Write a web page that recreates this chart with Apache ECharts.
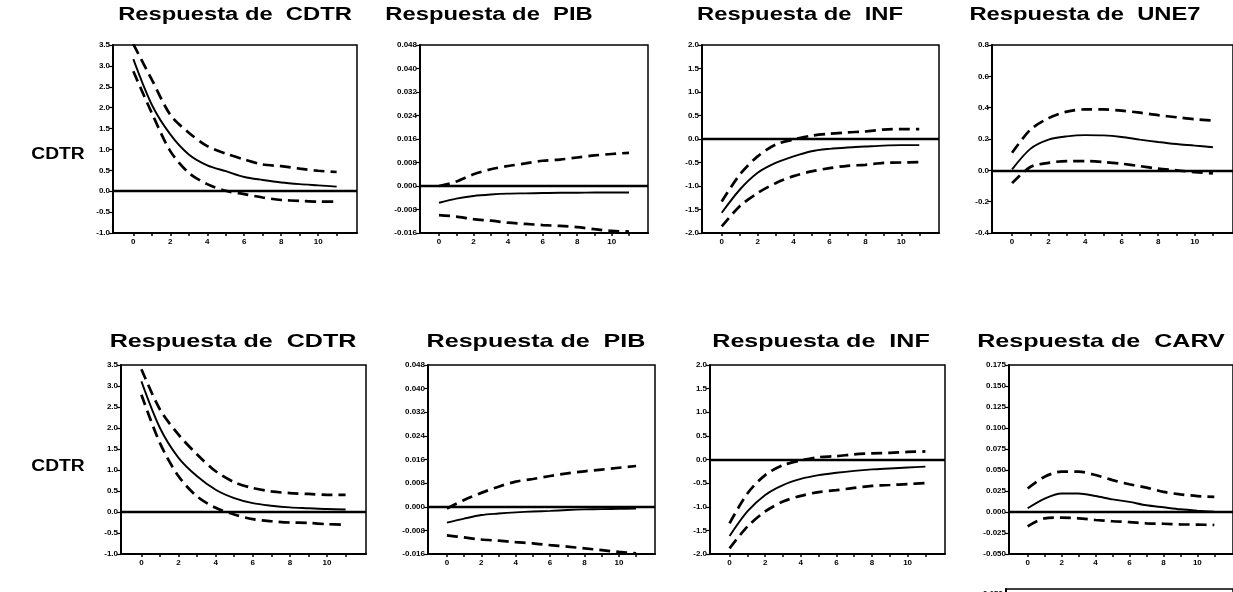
<!DOCTYPE html>
<html><head><meta charset="utf-8">
<script src="https://cdn.jsdelivr.net/npm/echarts@6/dist/echarts.min.js"></script>
<style>html,body{margin:0;padding:0;background:#fff}#c{width:1233px;height:592px}</style>
</head><body><div id="c"></div>
<script>
// ---------- data ----------
const periods = [0,1,2,3,4,5,6,7,8,9,10,11];
const xTickLabels = [0,2,4,6,8,10];
const titles = ['Respuesta de  CDTR','Respuesta de  PIB','Respuesta de  INF','Respuesta de  UNE7',
                'Respuesta de  CDTR','Respuesta de  PIB','Respuesta de  INF','Respuesta de  CARV'];
const rowLabels = ['CDTR','CDTR'];

// y tick labels per panel
const ticksCdtr = [-1.0,-0.5,0.0,0.5,1.0,1.5,2.0,2.5,3.0,3.5];
const ticksPib  = [-0.016,-0.008,0.000,0.008,0.016,0.024,0.032,0.040,0.048];
const ticksInf  = [-2.0,-1.5,-1.0,-0.5,0.0,0.5,1.0,1.5,2.0];
const ticksUne7 = [-0.4,-0.2,0.0,0.2,0.4,0.6,0.8];
const ticksCarv = [-0.050,-0.025,0.000,0.025,0.050,0.075,0.100,0.125,0.150,0.175];

// top row
const cdtrA_mid = [3.16,2.07,1.36,0.88,0.62,0.48,0.34,0.27,0.21,0.17,0.14,0.11];
const cdtrA_up  = [3.52,2.67,1.83,1.40,1.08,0.90,0.76,0.64,0.60,0.54,0.49,0.46];
const cdtrA_lo  = [2.87,1.87,0.96,0.44,0.17,0.01,-0.07,-0.15,-0.21,-0.23,-0.25,-0.25];

const pibA_mid = [-0.0057,-0.0043,-0.0034,-0.0029,-0.0026,-0.0025,-0.0024,-0.0023,-0.0023,-0.0022,-0.0022,-0.0022];
const pibA_up  = [0.0000,0.0015,0.0040,0.0057,0.0068,0.0077,0.0086,0.0090,0.0097,0.0104,0.0109,0.0113];
const pibA_lo  = [-0.0099,-0.0104,-0.0113,-0.0118,-0.0125,-0.0129,-0.0133,-0.0136,-0.0140,-0.0147,-0.0153,-0.0155];

const infA_mid = [-1.57,-1.08,-0.72,-0.51,-0.37,-0.26,-0.21,-0.18,-0.16,-0.14,-0.13,-0.13];
const infA_up  = [-1.33,-0.76,-0.37,-0.12,-0.01,0.07,0.11,0.14,0.16,0.20,0.21,0.21];
const infA_lo  = [-1.86,-1.43,-1.15,-0.94,-0.79,-0.69,-0.62,-0.57,-0.55,-0.51,-0.50,-0.49];

const une7A_mid = [0.006,0.137,0.196,0.217,0.225,0.223,0.213,0.196,0.181,0.168,0.158,0.147];
const une7A_up  = [0.112,0.259,0.333,0.375,0.389,0.389,0.381,0.368,0.352,0.339,0.326,0.318];
const une7A_lo  = [-0.082,0.021,0.048,0.059,0.059,0.053,0.042,0.027,0.011,0.000,-0.011,-0.019];

// bottom row
const cdtrB_mid = [3.11,2.00,1.29,0.85,0.53,0.33,0.21,0.15,0.11,0.09,0.07,0.06];
const cdtrB_up  = [3.40,2.44,1.84,1.37,0.97,0.71,0.57,0.49,0.45,0.43,0.41,0.41];
const cdtrB_lo  = [2.79,1.64,0.85,0.37,0.10,-0.06,-0.17,-0.22,-0.25,-0.26,-0.29,-0.30];

const pibB_mid = [-0.0054,-0.0040,-0.0028,-0.0023,-0.0019,-0.0016,-0.0014,-0.0011,-0.0009,-0.0008,-0.0007,-0.0006];
const pibB_up  = [-0.0006,0.0023,0.0047,0.0068,0.0085,0.0094,0.0104,0.0113,0.0120,0.0126,0.0132,0.0138];
const pibB_lo  = [-0.0097,-0.0104,-0.0111,-0.0115,-0.0120,-0.0124,-0.0130,-0.0135,-0.0141,-0.0147,-0.0153,-0.0158];

const infB_mid = [-1.62,-1.10,-0.75,-0.54,-0.41,-0.33,-0.28,-0.24,-0.21,-0.19,-0.17,-0.15];
const infB_up  = [-1.35,-0.72,-0.33,-0.12,-0.02,0.05,0.07,0.11,0.13,0.14,0.16,0.17];
const infB_lo  = [-1.88,-1.42,-1.10,-0.89,-0.77,-0.69,-0.65,-0.60,-0.56,-0.54,-0.52,-0.50];

const carvB_mid = [0.0044,0.016,0.022,0.022,0.019,0.015,0.012,0.008,0.0056,0.0032,0.0016,0.0004];
const carvB_up  = [0.028,0.042,0.048,0.048,0.044,0.038,0.033,0.029,0.024,0.021,0.019,0.018];
const carvB_lo  = [-0.017,-0.0075,-0.0067,-0.0075,-0.0095,-0.011,-0.012,-0.0135,-0.014,-0.0147,-0.015,-0.0155];

// ---------- layout ----------
const panels = [
  {grid:{left:113,top:45,width:244,height:188}, ticks:ticksCdtr, dec:1, d:[cdtrA_mid,cdtrA_up,cdtrA_lo]},
  {grid:{left:420,top:45,width:228,height:188}, ticks:ticksPib,  dec:3, d:[pibA_mid,pibA_up,pibA_lo]},
  {grid:{left:702,top:45,width:237,height:188}, ticks:ticksInf,  dec:1, d:[infA_mid,infA_up,infA_lo]},
  {grid:{left:992,top:45,width:243,height:188}, ticks:ticksUne7, dec:1, d:[une7A_mid,une7A_up,une7A_lo]},
  {grid:{left:121,top:365,width:245,height:189}, ticks:ticksCdtr, dec:1, d:[cdtrB_mid,cdtrB_up,cdtrB_lo]},
  {grid:{left:428,top:365,width:227,height:189}, ticks:ticksPib,  dec:3, d:[pibB_mid,pibB_up,pibB_lo]},
  {grid:{left:710,top:365,width:235,height:189}, ticks:ticksInf,  dec:1, d:[infB_mid,infB_up,infB_lo]},
  {grid:{left:1009,top:365,width:232,height:189}, ticks:ticksCarv, dec:3, d:[carvB_mid,carvB_up,carvB_lo]},
  {grid:{left:1006,top:589,width:232,height:189}, ticks:ticksCarv, dec:3, d:null}
];
const titlePos = [[235,15,18],[489,15,18],[800,15,18],[1085,15,18],[233,342,19],[536,342,19],[821,342,19],[1101,342,19]];
const titleScaleX = 1.32;
const rowPos = [[58,155],[58,467]];

const grids=[], xAxes=[], yAxes=[], series=[];
const lblFont = {fontSize:8, fontWeight:'bold', color:'#000', fontFamily:'Liberation Sans, Arial, sans-serif'};
panels.forEach((p,i)=>{
  grids.push(Object.assign({show:true, borderColor:'#000', borderWidth:1.5, backgroundColor:'#fff'}, p.grid));
  xAxes.push({type:'value', gridIndex:i, min:-1.1, max:12.1,
    axisLine:{show:true, onZero:false, lineStyle:{color:'#000', width:2}},
    axisTick:{show:true, inside:false, length:3, customValues:periods, lineStyle:{color:'#000', width:1.5}},
    axisLabel:Object.assign({show:p.d!==null, customValues:xTickLabels, margin:5}, lblFont),
    splitLine:{show:false}});
  const t=p.ticks;
  yAxes.push({type:'value', gridIndex:i, min:t[0], max:t[t.length-1], interval:+(t[1]-t[0]).toFixed(6),
    axisLine:{show:true, onZero:false, lineStyle:{color:'#000', width:2}},
    axisTick:{show:true, length:4, lineStyle:{color:'#000', width:1.2}},
    axisLabel:Object.assign({margin:3, formatter:v=>{
        return (Math.abs(v)<1e-9)? (0).toFixed(p.dec) : v.toFixed(p.dec);}}, lblFont),
    splitLine:{show:false}});
  if(!p.d) return;
  const mk = arr => periods.map((x,k)=>[x,arr[k]]);
  series.push({type:'line', xAxisIndex:i, yAxisIndex:i, data:mk(p.d[0]), symbol:'none', smooth:0.3,
    lineStyle:{color:'#000', width:1.9}, silent:true, z:3,
    markLine:{silent:true, symbol:'none', label:{show:false}, data:[{yAxis:0}],
      lineStyle:{color:'#000', width:2.4, type:'solid'}}});
  [1,2].forEach(j=>series.push({type:'line', xAxisIndex:i, yAxisIndex:i, data:mk(p.d[j]), symbol:'none', smooth:0.3,
    lineStyle:{color:'#000', width:2.7, type:[11,6]}, silent:true, z:3}));
});

const graphics=[];
titles.forEach((t,i)=>graphics.push({type:'text', x:titlePos[i][0], y:titlePos[i][1], scaleX:titleScaleX,
  style:{text:t, fill:'#000', font:'bold '+titlePos[i][2]+'px "Liberation Sans", Arial, sans-serif', textAlign:'center', textVerticalAlign:'middle'}}));
rowLabels.forEach((t,i)=>graphics.push({type:'text', x:rowPos[i][0], y:rowPos[i][1], scaleX:1.2,
  style:{text:t, fill:'#000', font:'bold 16px "Liberation Sans", Arial, sans-serif', textAlign:'center', textVerticalAlign:'middle'}}));

const chart = echarts.init(document.getElementById('c'), null, {renderer:'canvas'});
chart.setOption({animation:false, backgroundColor:'#fff', grid:grids, xAxis:xAxes, yAxis:yAxes, series:series, graphic:graphics});
</script></body></html>
